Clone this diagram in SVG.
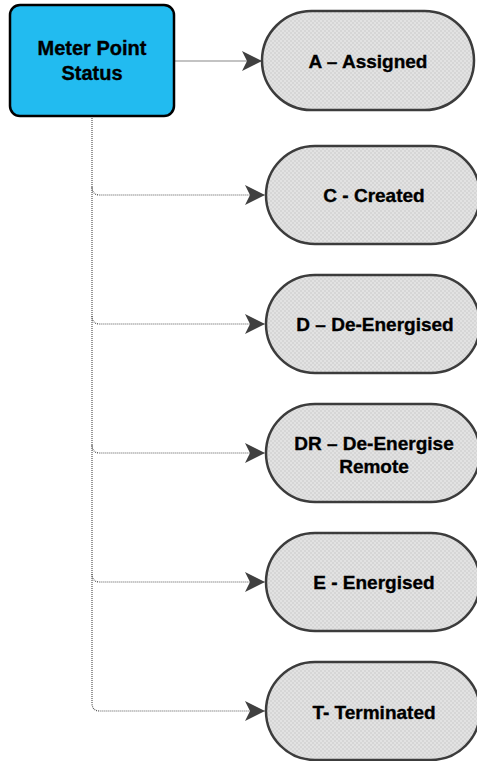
<svg xmlns="http://www.w3.org/2000/svg" width="477" height="761" viewBox="0 0 477 761">
<style>
.lbl{font-family:"Liberation Sans",Arial,sans-serif;font-weight:bold;font-size:19px;fill:#000;stroke:#000;stroke-width:0.35;text-anchor:middle}
.big{font-size:20px}
.st{fill:url(#hatch);stroke:#3c3c3c;stroke-width:2.5}
.dot{fill:none;stroke:#555;stroke-width:1.2;stroke-dasharray:1 1}
</style>
<defs>
<pattern id="hatch" width="4" height="4" patternUnits="userSpaceOnUse">
<rect width="4" height="4" fill="#d6d6d6"/>
<rect width="2" height="2" fill="#e2e2e2"/>
<rect x="2" y="2" width="2" height="2" fill="#e2e2e2"/>
</pattern>
<marker id="arr" viewBox="0 0 10 10" refX="10" refY="5" markerWidth="20" markerHeight="20" markerUnits="userSpaceOnUse" orient="auto">
<path d="M0,0 L10,5 L0,10 L2.5,5 Z" fill="#404040"/>
</marker>
</defs>
<g id="connectors">
<line x1="174" y1="61" x2="262" y2="61" stroke="#888" stroke-width="1.2" marker-end="url(#arr)"/>
<path class="dot" d="M92,116 V703 Q92,711 100,711 H265" marker-end="url(#arr)"/>
<path class="dot" d="M92,187 Q92,195 100,195 H265" marker-end="url(#arr)"/>
<path class="dot" d="M92,316 Q92,324 100,324 H265" marker-end="url(#arr)"/>
<path class="dot" d="M92,445 Q92,453 100,453 H265" marker-end="url(#arr)"/>
<path class="dot" d="M92,574 Q92,582 100,582 H265" marker-end="url(#arr)"/>
</g>
<g id="root">
<rect x="10" y="5" width="164" height="111" rx="10" fill="#22bbf0" stroke="#000" stroke-width="2.5"/>
<text class="lbl big" x="92" y="55">Meter Point</text>
<text class="lbl big" x="92" y="80">Status</text>
</g>
<g id="A">
<rect class="st" x="262" y="11" width="212" height="99" rx="49.5"/>
<text class="lbl" x="368" y="68">A – Assigned</text>
</g>
<g id="C">
<rect class="st" x="266" y="146" width="214" height="98" rx="49"/>
<text class="lbl" x="374" y="202">C - Created</text>
</g>
<g id="D">
<rect class="st" x="266" y="275" width="214" height="98" rx="49"/>
<text class="lbl" x="375" y="331">D – De-Energised</text>
</g>
<g id="DR">
<rect class="st" x="266" y="404" width="214" height="98" rx="49"/>
<text class="lbl" x="374" y="450">DR – De-Energise</text>
<text class="lbl" x="374" y="473">Remote</text>
</g>
<g id="E">
<rect class="st" x="266" y="533" width="214" height="98" rx="49"/>
<text class="lbl" x="374" y="589">E - Energised</text>
</g>
<g id="T">
<rect class="st" x="266" y="662" width="214" height="98" rx="49"/>
<text class="lbl" x="374" y="719">T- Terminated</text>
</g>
</svg>
